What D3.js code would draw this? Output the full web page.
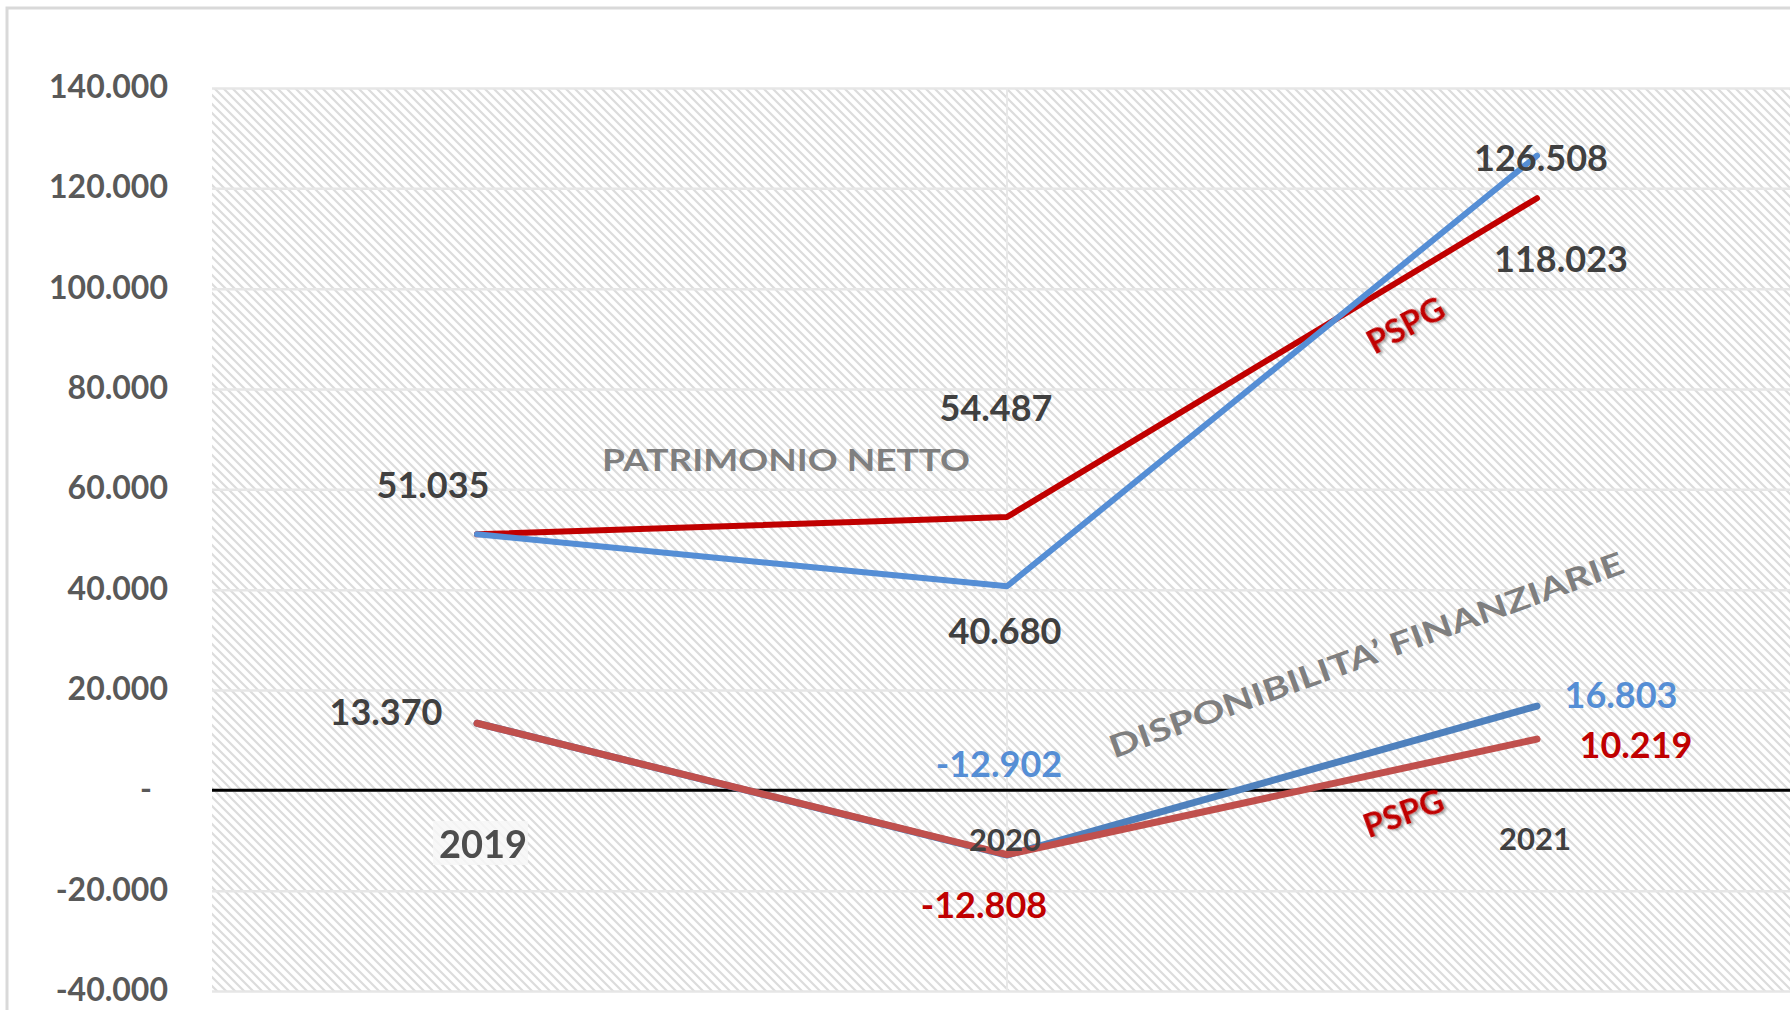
<!DOCTYPE html>
<html>
<head>
<meta charset="utf-8">
<script src="https://cdn.jsdelivr.net/npm/d3@7"></script>
<style>
body { margin: 0; background: #fff; }
text { font-family: Lato, "Open Sans", sans-serif; }
</style>
</head>
<body>
<script>
var years = ['2019', '2020', '2021'];
var patrimonio = [51035, 40680, 126508];
var patrimonioPspg = [51035, 54487, 118023];
var disponibilita = [13370, -12902, 16803];
var disponibilitaPspg = [13370, -12808, 10219];
var yTicks = [-40000, -20000, 0, 20000, 40000, 60000, 80000, 100000, 120000, 140000];

var width = 1790;
var height = 1010;
var plot = { left: 212, top: 88, right: 1802, bottom: 991 };

var it = d3.formatLocale({ decimal: ',', thousands: '.', grouping: [3], currency: ['', ''], minus: '-' });
var fmt = it.format(',d');

var svg = d3.select('body').append('svg')
    .attr('width', width)
    .attr('height', height);

var defs = svg.append('defs');
var pat = defs.append('pattern')
    .attr('id', 'hatch')
    .attr('patternUnits', 'userSpaceOnUse')
    .attr('width', 9)
    .attr('height', 9);
pat.append('rect').attr('width', 9).attr('height', 9).attr('fill', '#fff');
pat.append('path')
    .attr('d', 'M-2,-2L11,11M-2,7L2,11M7,-2L11,2')
    .attr('stroke', '#dcdcdc')
    .attr('stroke-width', 2.2);

var shadow = defs.append('filter').attr('id', 'shadow')
    .attr('x', '-20%').attr('y', '-20%').attr('width', '140%').attr('height', '140%');
shadow.append('feDropShadow')
    .attr('dx', 2).attr('dy', 2).attr('stdDeviation', 1.2)
    .attr('flood-color', '#000').attr('flood-opacity', 0.35);

var soft = defs.append('filter').attr('id', 'soft');
soft.append('feGaussianBlur').attr('stdDeviation', 0.5);

// chart border
svg.append('rect')
    .attr('x', 7).attr('y', 8)
    .attr('width', 1800).attr('height', 1020)
    .attr('fill', '#fff')
    .attr('stroke', '#d9d9d9')
    .attr('stroke-width', 3);

var x = d3.scalePoint()
    .domain(years)
    .range([plot.left, plot.right])
    .padding(0.5);

var y = d3.scaleLinear()
    .domain([-40000, 140000])
    .range([plot.bottom, plot.top]);

svg.append('rect')
    .attr('x', plot.left).attr('y', plot.top)
    .attr('width', plot.right - plot.left)
    .attr('height', plot.bottom - plot.top)
    .attr('fill', 'url(#hatch)');

// horizontal gridlines
var grid = d3.axisLeft(y)
    .tickValues(yTicks)
    .tickSize(-(plot.right - plot.left))
    .tickFormat('');
svg.append('g')
    .attr('transform', 'translate(' + plot.left + ',0)')
    .call(grid)
    .call(function (g) { g.select('.domain').remove(); })
    .selectAll('line')
    .attr('stroke', '#e6e6e6')
    .attr('stroke-width', 2.5);

// faint vertical line at 2020
svg.append('line')
    .attr('x1', x('2020')).attr('x2', x('2020'))
    .attr('y1', plot.top).attr('y2', plot.bottom)
    .attr('stroke', '#e8e8e8')
    .attr('stroke-width', 2);

// y axis labels
var yaxis = d3.axisLeft(y)
    .tickValues(yTicks)
    .tickSize(0)
    .tickPadding(44)
    .tickFormat(function (d) { return d === 0 ? '-' : fmt(d); });
var ya = svg.append('g')
    .attr('transform', 'translate(' + plot.left + ',0)')
    .call(yaxis);
ya.select('.domain').remove();
ya.selectAll('text')
    .attr('font-family', 'Lato, sans-serif')
    .attr('font-size', 32)
    .attr('font-weight', 'bold')
    .attr('fill', '#595959')
    .attr('dy', '0.3em');
ya.selectAll('.tick').filter(function (d) { return d === 0; })
    .select('text').attr('dx', -16);

// zero line
svg.append('line')
    .attr('x1', plot.left).attr('x2', plot.right)
    .attr('y1', y(0)).attr('y2', y(0))
    .attr('stroke', '#000')
    .attr('stroke-width', 3);

var line = d3.line()
    .x(function (d, i) { return x(years[i]); })
    .y(function (d) { return y(d); });

var series = [
    { values: disponibilita, color: '#4f81bd', w: 7 },
    { values: disponibilitaPspg, color: '#c0504d', w: 7 },
    { values: patrimonioPspg, color: '#c00000', w: 6 },
    { values: patrimonio, color: '#558ed5', w: 6 }
];

svg.selectAll('path.series')
    .data(series)
    .join('path')
    .attr('class', 'series')
    .attr('d', function (d) { return line(d.values); })
    .attr('fill', 'none')
    .attr('stroke', function (d) { return d.color; })
    .attr('stroke-width', function (d) { return d.w; })
    .attr('stroke-linecap', 'round')
    .attr('stroke-linejoin', 'round');

// category labels
svg.append('rect')
    .attr('x', x('2019') - 44).attr('y', 821)
    .attr('width', 95).attr('height', 44)
    .attr('fill', '#f7f7f7')
    .attr('opacity', 0.85);
svg.append('text')
    .attr('x', x('2019') + 6).attr('y', y(0) + 53)
    .attr('text-anchor', 'middle')
    .attr('dominant-baseline', 'central')
    .attr('font-size', 38)
    .attr('font-weight', 'bold')
    .attr('fill', '#4d4d4d')
    .attr('filter', 'url(#soft)')
    .text(years[0]);
svg.append('text')
    .attr('x', x('2020') - 2).attr('y', y(0) + 49)
    .attr('text-anchor', 'middle')
    .attr('dominant-baseline', 'central')
    .attr('font-size', 31)
    .attr('font-weight', 'bold')
    .attr('fill', '#404040')
    .text(years[1]);
svg.append('text')
    .attr('x', x('2021') - 2).attr('y', y(0) + 48)
    .attr('text-anchor', 'middle')
    .attr('dominant-baseline', 'central')
    .attr('font-size', 31)
    .attr('font-weight', 'bold')
    .attr('fill', '#404040')
    .text(years[2]);

// data labels
var labels = [
    { s: disponibilita, i: 0, dx: -91, dy: -12, fill: '#404040' },
    { s: patrimonio, i: 0, dx: -44, dy: -50, fill: '#404040' },
    { s: patrimonioPspg, i: 1, dx: -11, dy: -110, fill: '#404040' },
    { s: patrimonio, i: 1, dx: -2, dy: 44, fill: '#404040' },
    { s: patrimonio, i: 2, dx: 4, dy: 1, fill: '#404040' },
    { s: patrimonioPspg, i: 2, dx: 24, dy: 60, fill: '#404040' },
    { s: disponibilita, i: 1, dx: -8, dy: -92, fill: '#558ed5' },
    { s: disponibilita, i: 2, dx: 84, dy: -12, fill: '#558ed5' },
    { s: disponibilitaPspg, i: 2, dx: 99, dy: 5, fill: '#c00000' },
    { s: disponibilitaPspg, i: 1, dx: -23, dy: 49, fill: '#c00000' }
];

svg.selectAll('text.lbl')
    .data(labels)
    .join('text')
    .attr('class', 'lbl')
    .attr('x', function (d) { return x(years[d.i]) + d.dx; })
    .attr('y', function (d) { return y(d.s[d.i]) + d.dy; })
    .attr('text-anchor', 'middle')
    .attr('dominant-baseline', 'central')
    .attr('font-size', 36)
    .attr('font-weight', 'bold')
    .attr('fill', function (d) { return d.fill; })
    .text(function (d) { return fmt(d.s[d.i]); });

// annotations
svg.append('text')
    .attr('x', 786).attr('y', 459)
    .attr('text-anchor', 'middle')
    .attr('dominant-baseline', 'central')
    .attr('font-size', 30)
    .attr('font-weight', 'bold')
    .attr('fill', '#7f7f7f')
    .attr('textLength', 368)
    .attr('lengthAdjust', 'spacingAndGlyphs')
    .text('PATRIMONIO NETTO');

svg.append('text')
    .attr('transform', 'translate(1366,654) rotate(-20)')
    .attr('text-anchor', 'middle')
    .attr('dominant-baseline', 'central')
    .attr('font-size', 31)
    .attr('font-weight', 'bold')
    .attr('fill', '#7f7f7f')
    .attr('textLength', 545)
    .attr('lengthAdjust', 'spacingAndGlyphs')
    .text('DISPONIBILITA\u2019 FINANZIARIE');

svg.append('text')
    .attr('transform', 'translate(1405,324) rotate(-28)')
    .attr('text-anchor', 'middle')
    .attr('dominant-baseline', 'central')
    .attr('font-size', 33)
    .attr('font-weight', 'bold')
    .attr('fill', '#c00000')
    .attr('filter', 'url(#shadow)')
    .text('PSPG');

svg.append('text')
    .attr('transform', 'translate(1403,812) rotate(-20)')
    .attr('text-anchor', 'middle')
    .attr('dominant-baseline', 'central')
    .attr('font-size', 33)
    .attr('font-weight', 'bold')
    .attr('fill', '#c00000')
    .attr('filter', 'url(#shadow)')
    .text('PSPG');
</script>
</body>
</html>
